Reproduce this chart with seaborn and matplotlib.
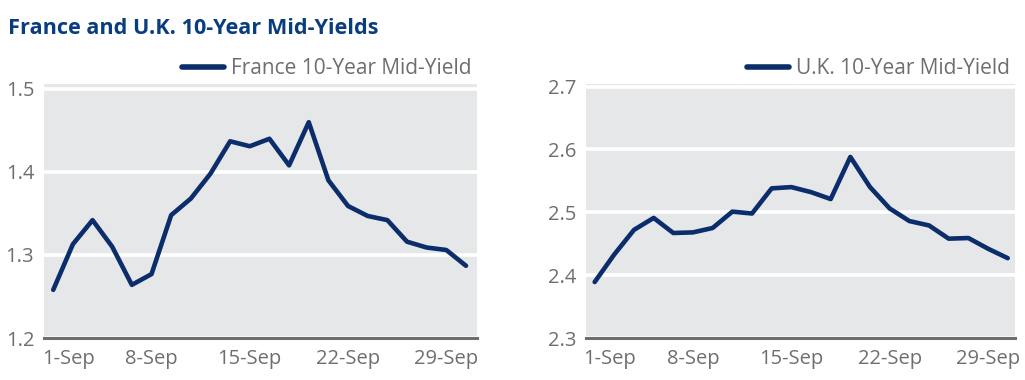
import numpy as np
import pandas as pd
import matplotlib
matplotlib.use("Agg")
import matplotlib.pyplot as plt
import matplotlib.transforms as mtransforms
import seaborn as sns

# business days in September (category axis, one point per trading day)
days = ["1-Sep", "2-Sep", "5-Sep", "6-Sep", "7-Sep", "8-Sep", "9-Sep", "12-Sep",
        "13-Sep", "14-Sep", "15-Sep", "16-Sep", "19-Sep", "20-Sep", "21-Sep",
        "22-Sep", "23-Sep", "26-Sep", "27-Sep", "28-Sep", "29-Sep", "30-Sep"]

france = [1.258, 1.313, 1.342, 1.310, 1.264, 1.277, 1.348, 1.368, 1.398, 1.437, 1.431,
          1.440, 1.408, 1.460, 1.390, 1.359, 1.347, 1.342, 1.316, 1.309, 1.306, 1.287]

uk = [2.389, 2.433, 2.472, 2.491, 2.467, 2.468, 2.475, 2.501, 2.498, 2.538, 2.540,
      2.532, 2.521, 2.588, 2.540, 2.506, 2.486, 2.479, 2.458, 2.459, 2.442, 2.427]

tick_days = ["1-Sep", "8-Sep", "15-Sep", "22-Sep", "29-Sep"]

title = "France and U.K. 10-Year Mid-Yields"
series = [
    ("France 10-Year Mid-Yield", france, (1.2, 1.506), [1.2, 1.3, 1.4, 1.5]),
    ("U.K. 10-Year Mid-Yield", uk, (2.3, 2.704), [2.3, 2.4, 2.5, 2.6, 2.7]),
]

sns.set_style("white")
plt.rcParams["font.family"] = ["Open Sans", "DejaVu Sans"]

navy = "#0c2d6b"
grey_txt = "#6d6e71"
panel_bg = "#e6e7e8"

fig = plt.figure(figsize=(10.25, 3.8), dpi=100)
fig.text(8 / 1025, 1 - 28 / 380, title, fontsize=15.6, fontweight="bold",
         color="#0a3d7e", va="center", ha="left")

boxes = [[44 / 1025, 42 / 380, 433 / 1025, 254 / 380],
         [586 / 1025, 42 / 380, 429 / 1025, 254 / 380]]
xlims = [(-0.47, 21.56), (-0.44, 21.37)]

for (name, vals, ylim, yticks), box, xl in zip(series, boxes, xlims):
    ax = fig.add_axes(box)
    df = pd.DataFrame({"pos": np.arange(len(days)), "day": days, "value": vals})
    sns.lineplot(data=df, x="pos", y="value", ax=ax, color=navy, linewidth=3.3,
                 label=name, solid_capstyle="round", solid_joinstyle="round")
    ax.set_facecolor(panel_bg)
    ax.set_xlim(*xl)
    ax.set_ylim(*ylim)
    ax.set_xlabel("")
    ax.set_ylabel("")

    ax.set_yticks(yticks)
    ax.set_yticklabels([f"{v:.1f}" for v in yticks])
    ax.yaxis.grid(True, color="white", linewidth=2.6)
    ax.xaxis.grid(False)
    ax.set_axisbelow(True)

    tpos = [days.index(d) for d in tick_days]
    ax.set_xticks(tpos)
    ax.set_xticklabels(tick_days)

    for s in ["top", "right", "left"]:
        ax.spines[s].set_visible(False)
    ax.spines["bottom"].set_color(grey_txt)
    ax.spines["bottom"].set_linewidth(2.2)

    ax.tick_params(axis="x", direction="in", length=5, width=2, color=grey_txt,
                   labelsize=14.5, labelcolor=grey_txt, pad=8)
    ax.tick_params(axis="y", length=0, labelsize=14.5, labelcolor=grey_txt, pad=7)

    # first date label sits flush with the panel's left edge
    first = ax.get_xticklabels()[0]
    first.set_horizontalalignment("left")
    first.set_transform(first.get_transform() +
                        mtransforms.ScaledTranslation(-11 / 100, 0, fig.dpi_scale_trans))

    leg = ax.legend(loc="lower right", bbox_to_anchor=(1.0, 1.0), frameon=False,
                    fontsize=15, handlelength=2.0, handletextpad=0.35,
                    borderpad=0, borderaxespad=0.25)
    for t in leg.get_texts():
        t.set_color(grey_txt)
    for h in leg.get_lines():
        h.set_linewidth(4)
        h.set_solid_capstyle("round")

fig.savefig("out.png", dpi=100)
